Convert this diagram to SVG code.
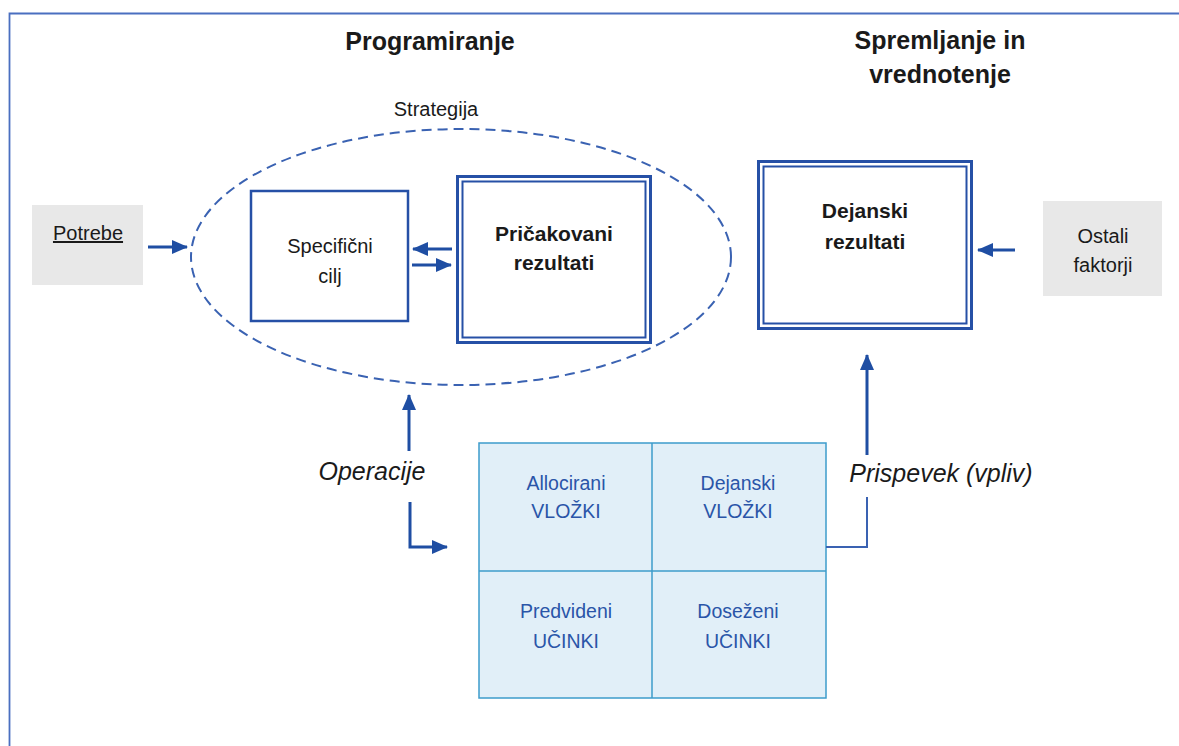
<svg xmlns="http://www.w3.org/2000/svg" width="1179" height="746" viewBox="0 0 1179 746">
<defs>
<marker id="ah" markerUnits="userSpaceOnUse" markerWidth="16" markerHeight="16" viewBox="0 0 16 16" refX="15" refY="8" orient="auto">
<path d="M0,1 L16,8 L0,15 Z" fill="#1f4ea3"/>
</marker>
<style>
.t{font-family:"Liberation Sans",Arial,sans-serif;fill:#1a1a1a;text-anchor:middle}
.r{font-size:20px}
.b{font-size:21px;font-weight:bold}
.h{font-size:25px;font-weight:bold}
.i{font-size:25px;font-style:italic}
.g{font-size:19.5px;fill:#2a55a8}
.box{fill:#fff;stroke:#2650a6;stroke-width:2.5}
.gray{fill:#e8e8e8}
.cell{fill:#e1eff8;stroke:#3d9ccb;stroke-width:1.5}
.arr{fill:none;stroke:#1f4ea3;stroke-width:3;marker-end:url(#ah)}
.ln{fill:none;stroke:#3a62b2;stroke-width:2}
</style>
</defs>
<rect width="1179" height="746" fill="#fff"/>
<path d="M9.5,746 V13.5 H1179" fill="none" stroke="#4a6fc0" stroke-width="1.8"/>

<g id="titles">
<text class="t h" x="430" y="50">Programiranje</text>
<text class="t h" x="940" y="49">Spremljanje in</text>
<text class="t h" x="940" y="83">vrednotenje</text>
</g>

<g id="strategija">
<ellipse cx="461" cy="257" rx="270" ry="128" fill="none" stroke="#3a62b2" stroke-width="2" stroke-dasharray="10,6"/>
<text class="t" font-size="20" x="436" y="116">Strategija</text>
</g>

<g id="potrebe">
<rect class="gray" x="32" y="205" width="111" height="80"/>
<text class="t r" x="88" y="240" text-decoration="underline">Potrebe</text>
</g>

<g id="specificni">
<rect class="box" x="251" y="191" width="157" height="130"/>
<text class="t r" x="330" y="253">Specifični</text>
<text class="t r" x="330" y="283">cilj</text>
</g>

<g id="pricakovani">
<rect x="457.5" y="176.5" width="193" height="166" fill="#fff" stroke="#2650a6" stroke-width="3"/>
<rect x="462.5" y="181.5" width="183" height="156" fill="none" stroke="#2650a6" stroke-width="2"/>
<text class="t b" x="554" y="241">Pričakovani</text>
<text class="t b" x="554" y="270">rezultati</text>
</g>

<g id="dejanski">
<rect x="758.5" y="161.5" width="213" height="167" fill="#fff" stroke="#2650a6" stroke-width="3"/>
<rect x="763.5" y="166.5" width="203" height="157" fill="none" stroke="#2650a6" stroke-width="2"/>
<text class="t b" x="865" y="218">Dejanski</text>
<text class="t b" x="865" y="249">rezultati</text>
</g>

<g id="ostali">
<rect class="gray" x="1043" y="201" width="119" height="95"/>
<text class="t r" x="1103" y="243">Ostali</text>
<text class="t r" x="1103" y="272">faktorji</text>
</g>

<g id="grid">
<rect class="cell" x="479" y="443" width="347" height="255"/>
<line class="cell" x1="652" y1="443" x2="652" y2="698"/>
<line class="cell" x1="479" y1="571" x2="826" y2="571"/>
<text class="t g" x="566" y="490">Allocirani</text>
<text class="t g" x="566" y="518">VLOŽKI</text>
<text class="t g" x="738" y="490">Dejanski</text>
<text class="t g" x="738" y="518">VLOŽKI</text>
<text class="t g" x="566" y="618">Predvideni</text>
<text class="t g" x="566" y="648">UČINKI</text>
<text class="t g" x="738" y="618">Doseženi</text>
<text class="t g" x="738" y="648">UČINKI</text>
</g>

<g id="labels">
<text class="t i" x="372" y="480">Operacije</text>
<text class="t i" x="941" y="482">Prispevek (vpliv)</text>
</g>

<g id="connectors">
<line class="arr" x1="148" y1="247" x2="187" y2="247"/>
<line class="arr" x1="452" y1="249" x2="413" y2="249"/>
<line class="arr" x1="412" y1="265" x2="451" y2="265"/>
<line class="arr" x1="1015" y1="250" x2="978" y2="250"/>
<line class="arr" x1="409" y1="451" x2="409" y2="395"/>
<path class="arr" d="M410,502 V547 H447"/>
<path class="ln" d="M826,547 H867 V497"/>
<line class="arr" x1="867" y1="455" x2="867" y2="355"/>
</g>
</svg>
